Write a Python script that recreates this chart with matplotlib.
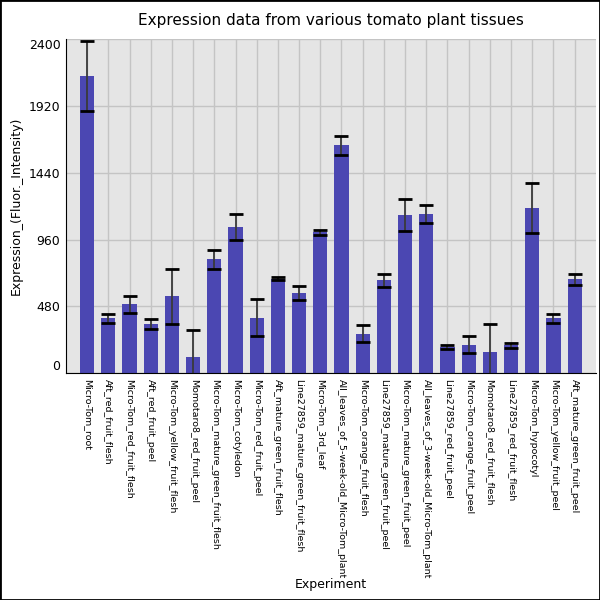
import matplotlib
matplotlib.use('Agg')
import matplotlib.pyplot as plt

# data
experimentos = ['Micro-Tom_root', 'Aft_red_fruit_flesh', 'Micro-Tom_red_fruit_flesh',
                'Aft_red_fruit_peel', 'Micro-Tom_yellow_fruit_flesh', 'Momotaro8_red_fruit_peel',
                'Micro-Tom_mature_green_fruit_flesh', 'Micro-Tom_cotyledon', 'Micro-Tom_red_fruit_peel',
                'Aft_mature_green_fruit_flesh', 'Line27859_mature_green_fruit_flesh', 'Micro-Tom_3rd_leaf',
                'All_leaves_of_5-week-old_Micro-Tom_plant', 'Micro-Tom_orange_fruit_flesh',
                'Line27859_mature_green_fruit_peel', 'Micro-Tom_mature_green_fruit_peel',
                'All_leaves_of_3-week-old_Micro-Tom_plant', 'Line27859_red_fruit_peel',
                'Micro-Tom_orange_fruit_peel', 'Momotaro8_red_fruit_flesh', 'Line27859_red_fruit_flesh',
                'Micro-Tom_hypocotyl', 'Micro-Tom_yellow_fruit_peel', 'Aft_mature_green_fruit_peel']
expressao = [2135, 393, 494, 350, 552, 113, 818, 1048, 400, 680, 573, 1012,
             1637, 285, 667, 1134, 1141, 185, 206, 149, 199, 1185, 393, 674]
erro = [250, 32, 60, 36, 196, 200, 68, 95, 132, 10, 50, 18,
        70, 58, 45, 115, 65, 14, 63, 205, 18, 180, 35, 40]
yticks = [0, 480, 960, 1440, 1920, 2400]

fig = plt.figure(figsize=(6, 6), dpi=100)
ax = fig.add_axes([0.11, 0.378, 0.883, 0.557])

x = list(range(len(experimentos)))
ax.bar(x, expressao, width=0.67, color='#4b47b2', zorder=2)
barras_erro = ax.errorbar(x, expressao, yerr=erro, fmt='none', ecolor='#3a3a3a', elinewidth=1.3,
                          capsize=4.8, capthick=2, zorder=3)
for cap in barras_erro[1]:
    cap.set_markeredgecolor('black')

ax.set_facecolor('#e5e5e5')
ax.set_xlim(-1, len(experimentos))
ax.set_ylim(0, 2400)
ax.set_xticks(x)
ax.set_xticklabels(experimentos, rotation=270, fontsize=6.8, va='top', ha='center')
ax.set_yticks(yticks)
ax.set_yticklabels([str(v) for v in yticks], fontsize=9)
lbls = ax.get_yticklabels()
lbls[0].set_va('bottom')
lbls[-1].set_va('top')
ax.tick_params(length=0, pad=4)
ax.grid(True, color='#c4c4c4', linewidth=1, zorder=0)
ax.set_axisbelow(True)
for s in ['top', 'right']:
    ax.spines[s].set_visible(False)

ax.set_title('Expression data from various tomato plant tissues', fontsize=11, pad=10)
ax.set_ylabel('Expression_(Fluor._Intensity)', fontsize=9)
ax.set_xlabel('Experiment', fontsize=9, labelpad=0)

fig.patches.append(plt.Rectangle((0, 0), 1, 1, transform=fig.transFigure,
                                 fill=False, edgecolor='black', linewidth=2))

plt.savefig('out.png', dpi=100)
